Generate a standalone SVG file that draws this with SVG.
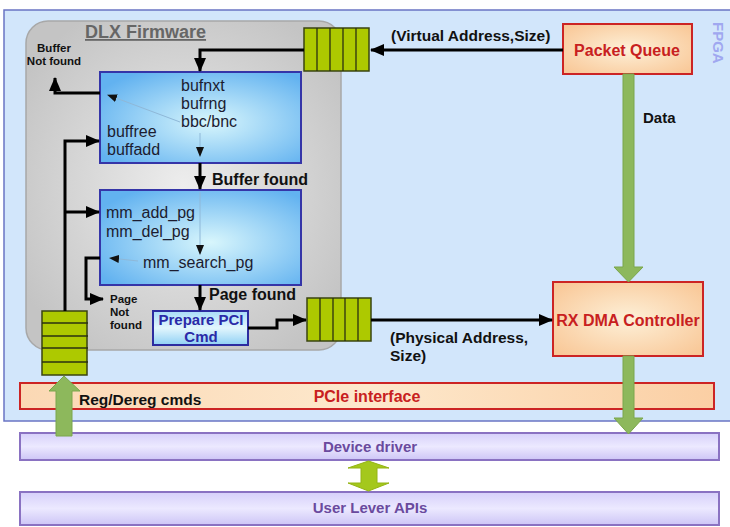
<svg xmlns="http://www.w3.org/2000/svg" width="730" height="527" viewBox="0 0 730 527">
  <style>
    .t { font-family: "Liberation Sans", Arial, sans-serif; }
    .b { font-weight: bold; }
    .blk { fill: url(#gBlue); stroke: #3535a8; stroke-width: 2; }
    .hot { fill: url(#gOrange); stroke: #cc2424; stroke-width: 2; }
    .layer { fill: url(#gLav); stroke: #8a72c2; stroke-width: 2; }
    .q { fill: #adc900; stroke: #3a4410; stroke-width: 1.5; }
    .ql { stroke: #2a3010; stroke-width: 1.3; }
    .wire { fill: none; stroke: #000; stroke-width: 3; }
    .faint { fill: none; stroke: #8fb8d8; stroke-width: 1; }
    .fat { fill: #8db85c; stroke: #7aa64c; stroke-width: 1; }
    .mono { font-size: 16px; fill: #1c1c30; }
  </style>
  <defs>
    <radialGradient id="gGray" cx="50%" cy="50%" r="60%">
      <stop offset="0" stop-color="#ededed"/>
      <stop offset="1" stop-color="#c4c4c4"/>
    </radialGradient>
    <radialGradient id="gBlue" cx="55%" cy="55%" r="65%">
      <stop offset="0" stop-color="#d8f6fc"/>
      <stop offset="1" stop-color="#62b2f0"/>
    </radialGradient>
    <radialGradient id="gOrange" cx="50%" cy="50%" r="65%">
      <stop offset="0" stop-color="#fdf0d8"/>
      <stop offset="1" stop-color="#f9c898"/>
    </radialGradient>
    <linearGradient id="gBar" x1="0" y1="0" x2="1" y2="0">
      <stop offset="0" stop-color="#fbd8b4"/>
      <stop offset="0.5" stop-color="#fde8cc"/>
      <stop offset="1" stop-color="#fbcfa4"/>
    </linearGradient>
    <linearGradient id="gLav" x1="0" y1="0" x2="0" y2="1">
      <stop offset="0" stop-color="#d6d0fa"/>
      <stop offset="0.5" stop-color="#ece9ff"/>
      <stop offset="1" stop-color="#cdc5f6"/>
    </linearGradient>
    <linearGradient id="gBtn" x1="0" y1="0" x2="0" y2="1">
      <stop offset="0" stop-color="#a8dcf8"/>
      <stop offset="0.5" stop-color="#e2f6fd"/>
      <stop offset="1" stop-color="#8fd0f4"/>
    </linearGradient>
    <marker id="ah" viewBox="0 0 14 12" refX="13" refY="6" markerWidth="14" markerHeight="12" markerUnits="userSpaceOnUse" orient="auto">
      <path d="M0,0 L14,6 L0,12 z" fill="#000"/>
    </marker>
    <marker id="ahs" viewBox="0 0 10 8" refX="9" refY="4" markerWidth="10" markerHeight="8" markerUnits="userSpaceOnUse" orient="auto">
      <path d="M0,0 L10,4 L0,8 z" fill="#111"/>
    </marker>
  </defs>

  <!-- white page -->
  <rect x="0" y="0" width="730" height="527" fill="#fff"/>

  <!-- FPGA region -->
  <g id="fpga">
    <rect x="4" y="10" width="740" height="411" fill="#d2e6fb" stroke="#6a74c4" stroke-width="1.5"/>
    <text class="t b" x="0" y="0" font-size="15" fill="#a0a8f0" transform="translate(713,22) rotate(90)">FPGA</text>
  </g>

  <!-- DLX firmware container -->
  <g id="firmware">
    <rect x="26" y="21" width="315" height="329" rx="22" fill="url(#gGray)" stroke="#a8a8a8" stroke-width="1.5"/>
    <text class="t b" x="85" y="38" font-size="18" fill="#666" text-decoration="underline">DLX Firmware</text>
  </g>

  <!-- buffer lookup block -->
  <g id="buf-block">
    <rect class="blk" x="100" y="72" width="201" height="91"/>
    <line class="faint" x1="180" y1="122" x2="108" y2="95" marker-end="url(#ahs)"/>
    <line class="faint" x1="200" y1="133" x2="200" y2="156" marker-end="url(#ahs)"/>
    <text class="t mono" x="181" y="91">bufnxt</text>
    <text class="t mono" x="181" y="109">bufrng</text>
    <text class="t mono" x="181" y="127">bbc/bnc</text>
    <text class="t mono" x="107" y="137">buffree</text>
    <text class="t mono" x="107" y="155">buffadd</text>
  </g>

  <!-- page lookup block -->
  <g id="page-block">
    <rect class="blk" x="100" y="190" width="201" height="95"/>
    <line class="faint" x1="200" y1="192" x2="200" y2="254" marker-end="url(#ahs)"/>
    <line class="faint" x1="138" y1="261" x2="110" y2="258" marker-end="url(#ahs)"/>
    <text class="t mono" x="106" y="218">mm_add_pg</text>
    <text class="t mono" x="106" y="237">mm_del_pg</text>
    <text class="t mono" x="143" y="268">mm_search_pg</text>
  </g>

  <!-- PCI command builder -->
  <g id="prepare-pci">
    <rect x="153" y="311" width="95" height="34" fill="url(#gBtn)" stroke="#2c2ca0" stroke-width="2"/>
    <text class="t b" x="201" y="325" font-size="15" fill="#2a2aa8" text-anchor="middle">Prepare PCI</text>
    <text class="t b" x="201" y="342" font-size="15" fill="#2a2aa8" text-anchor="middle">Cmd</text>
  </g>

  <!-- request queue (top) -->
  <g id="queue-in">
    <rect class="q" x="304" y="28" width="65" height="43"/>
    <line class="ql" x1="317" y1="28" x2="317" y2="71"/>
    <line class="ql" x1="330" y1="28" x2="330" y2="71"/>
    <line class="ql" x1="343" y1="28" x2="343" y2="71"/>
    <line class="ql" x1="356" y1="28" x2="356" y2="71"/>
  </g>

  <!-- command queue (middle) -->
  <g id="queue-out">
    <rect class="q" x="307" y="298" width="64" height="43"/>
    <line class="ql" x1="320" y1="298" x2="320" y2="341"/>
    <line class="ql" x1="333" y1="298" x2="333" y2="341"/>
    <line class="ql" x1="345" y1="298" x2="345" y2="341"/>
    <line class="ql" x1="358" y1="298" x2="358" y2="341"/>
  </g>

  <!-- registration queue (left) -->
  <g id="queue-reg">
    <rect class="q" x="42" y="311" width="45" height="64"/>
    <line class="ql" x1="42" y1="323" x2="88" y2="323"/>
    <line class="ql" x1="42" y1="336" x2="88" y2="336"/>
    <line class="ql" x1="42" y1="348" x2="88" y2="348"/>
    <line class="ql" x1="42" y1="362" x2="88" y2="362"/>
  </g>

  <!-- packet queue -->
  <g id="packet-queue">
    <rect class="hot" x="563" y="24" width="129" height="50"/>
    <text class="t b" x="627" y="56" font-size="16" fill="#c82020" text-anchor="middle">Packet Queue</text>
  </g>

  <!-- RX DMA -->
  <g id="rx-dma">
    <rect class="hot" x="553" y="282" width="150" height="74"/>
    <text class="t b" x="628" y="326" font-size="16" fill="#c82020" text-anchor="middle">RX DMA Controller</text>
  </g>

  <!-- PCIe interface bar -->
  <g id="pcie">
    <rect x="20" y="383" width="694" height="26" fill="url(#gBar)" stroke="#cc2424" stroke-width="2"/>
    <text class="t b" x="367" y="402" font-size="16" fill="#c82020" text-anchor="middle">PCIe interface</text>
  </g>

  <!-- host software layers -->
  <g id="device-driver">
    <rect class="layer" x="20" y="433" width="699" height="27"/>
    <text class="t b" x="370" y="452" font-size="15" fill="#6a4a9e" text-anchor="middle">Device driver</text>
  </g>
  <g id="user-apis">
    <rect class="layer" x="20" y="492" width="699" height="33"/>
    <text class="t b" x="370" y="513" font-size="15" fill="#6a4a9e" text-anchor="middle">User Lever APIs</text>
  </g>

  <!-- connectors -->
  <g id="connectors">
    <!-- packet queue to request queue -->
    <line class="wire" x1="563" y1="50" x2="371" y2="50" marker-end="url(#ah)"/>
    <!-- request queue into buffer block -->
    <polyline class="wire" points="304,50 200,50 200,71" marker-end="url(#ah)"/>
    <!-- buffer not found -->
    <polyline class="wire" points="100,93 55,93 55,78" marker-end="url(#ah)"/>
    <!-- registration path -->
    <polyline class="wire" points="65,311 65,141 99,141" marker-end="url(#ah)"/>
    <line class="wire" x1="65" y1="212" x2="99" y2="212" marker-end="url(#ah)"/>
    <!-- buffer found -->
    <line class="wire" x1="200" y1="163" x2="200" y2="189" marker-end="url(#ah)"/>
    <!-- page not found -->
    <polyline class="wire" points="100,258 86,258 86,299 103,299" marker-end="url(#ah)"/>
    <!-- page found -->
    <line class="wire" x1="200" y1="285" x2="200" y2="310" marker-end="url(#ah)"/>
    <!-- prepare cmd to command queue -->
    <polyline class="wire" points="248,328 277,328 277,320 306,320" marker-end="url(#ah)"/>
    <!-- command queue to RX DMA -->
    <line class="wire" x1="371" y1="320" x2="552" y2="320" marker-end="url(#ah)"/>

    <!-- data path -->
    <polygon class="fat" points="623,74 634,74 634,267 643,267 628.5,282 614,267 623,267"/>
    <polygon class="fat" points="623,356 634,356 634,418 643,418 628.5,434 614,418 623,418"/>
    <!-- reg/dereg path -->
    <polygon class="fat" points="56,436 72,436 72,391 80,391 64,376 49,391 56,391"/>
    <!-- driver <-> user APIs -->
    <polygon points="361,468 361,483 348,483 368.5,491 389,483 377,483 377,468 389,468 368.5,461 348,468" fill="#a4c81c" stroke="#94b414" stroke-width="1"/>

    <!-- connector labels -->
    <text class="t b" x="391" y="41" font-size="15.5" fill="#111">(Virtual Address,Size)</text>
    <text class="t b" x="643" y="123" font-size="15" fill="#111">Data</text>
    <text class="t b" x="212" y="185" font-size="16" fill="#111">Buffer found</text>
    <text class="t b" x="209" y="300" font-size="16" fill="#111">Page found</text>
    <text class="t b" x="390" y="343" font-size="15.5" fill="#111">(Physical Address,</text>
    <text class="t b" x="390" y="361" font-size="15.5" fill="#111">Size)</text>
    <text class="t b" x="79" y="405" font-size="15.5" fill="#111">Reg/Dereg cmds</text>
    <text class="t b" x="54" y="52" font-size="11.5" fill="#111" text-anchor="middle">Buffer</text>
    <text class="t b" x="54" y="65" font-size="11.5" fill="#111" text-anchor="middle">Not found</text>
    <text class="t b" x="110" y="303" font-size="11.5" fill="#111">Page</text>
    <text class="t b" x="110" y="316" font-size="11.5" fill="#111">Not</text>
    <text class="t b" x="110" y="329" font-size="11.5" fill="#111">found</text>
  </g>
</svg>
